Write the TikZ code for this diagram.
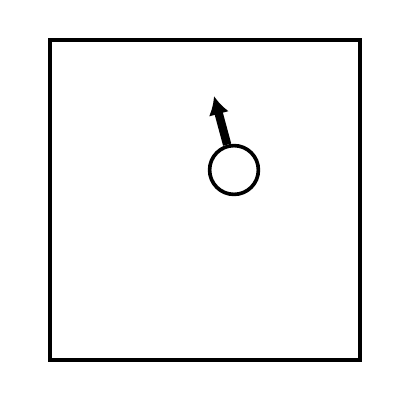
\documentclass[tikz,border=0pt]{standalone}
\usepackage{tikz}
\usetikzlibrary{arrows.meta,positioning}

\begin{document}
\begin{tikzpicture}[x=0.025cm,y=-0.025cm,>={Latex[length=4.6mm,width=5.2mm]}]
      \useasboundingbox (0,0) rectangle (400,400);
      \draw[line width=2.3pt] (50,40) rectangle (360,360);
      \node[circle,draw,line width=2.6pt,inner sep=0pt,minimum size=1.22cm,fill=white] (ball) at (234,170) {};
      \coordinate (tip) at (214,96);
      \draw[->,line width=6pt] (ball) -- (tip);
    \end{tikzpicture}
\end{document}
